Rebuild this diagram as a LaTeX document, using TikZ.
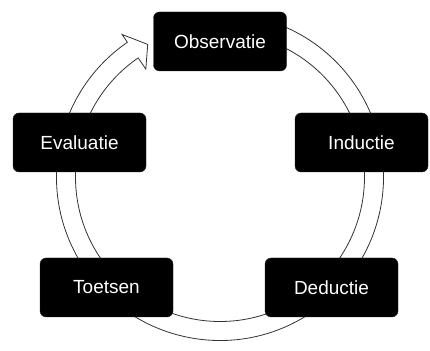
\documentclass[tikz,border=0pt]{standalone}
\usepackage{fontspec}
\setmainfont{Liberation Sans}

\begin{document}
\begin{tikzpicture}[
    x=1pt,y=1pt,
    stage/.style={
      rectangle,rounded corners=6pt,fill=black,draw=black!85,
      text=white,font=\fontsize{19}{22}\selectfont,
      minimum width=133pt,minimum height=59pt,inner sep=0pt
    },
    ring/.style={draw=black!80,line width=0.8pt,fill=white}
  ]
    \useasboundingbox (0,0) rectangle (430,350);

    \coordinate (c) at (220,173);

    % ring with arrow head
    \draw[ring] ([shift={(c)}]80:163.5) arc[start angle=80,end angle=-235.5,radius=163.5]
      -- ([shift={(c)}]-235.5:173)
      -- ([shift={(c)}]-241.4:151)
      -- ([shift={(c)}]-235.5:131)
      -- ([shift={(c)}]-235.5:144.5)
      arc[start angle=-235.5,end angle=80,radius=144.5]
      -- cycle;

    \node[stage] (observatie) at (220,308.5) {Observatie};
    \node[stage] (inductie) at (361.5,207.5) {Inductie};
    \node[stage] (deductie) at (331.5,62.5) {Deductie};
    \node[stage] (toetsen) at (106.5,62.5) {Toetsen};
    \node[stage] (evaluatie) at (79.5,207.5) {Evaluatie};
  \end{tikzpicture}
\end{document}
